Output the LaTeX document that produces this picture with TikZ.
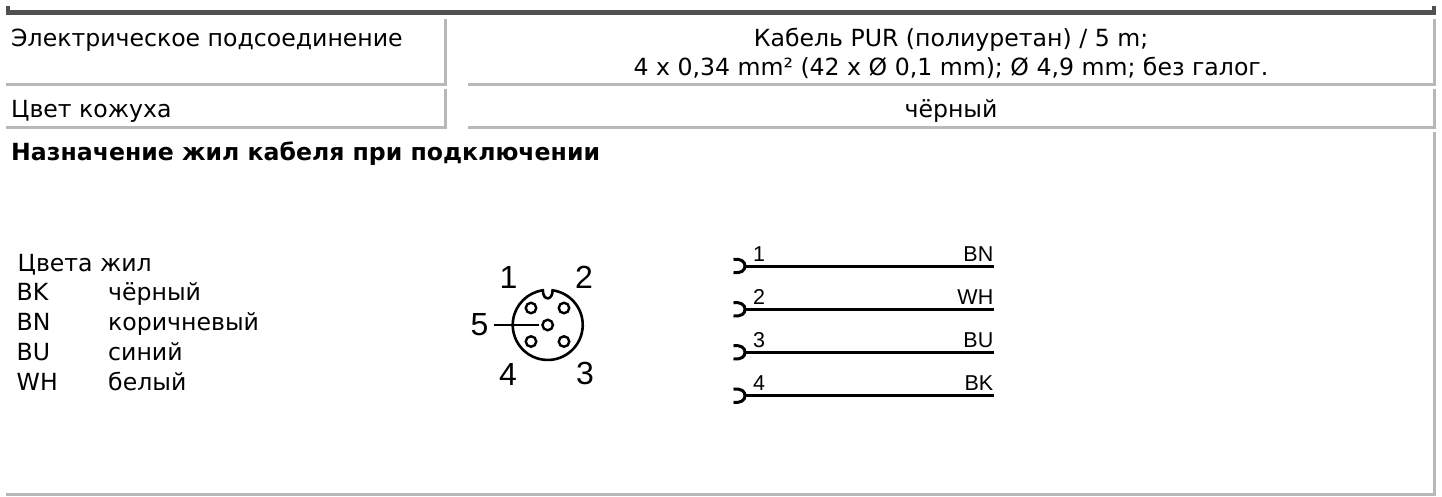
\documentclass[tikz,border=0pt]{standalone}
\usepackage{fontspec}
\setmainfont{DejaVu Sans}
\newfontfamily\arialf{Liberation Sans}
\definecolor{barc}{HTML}{505050}
\definecolor{rulec}{HTML}{B8B8B8}
\tikzset{
  txt/.style={inner sep=0pt,anchor=base west,text=black,font=\fontsize{23.6}{28}\selectfont},
  ctxt/.style={inner sep=0pt,anchor=base,text=black,font=\fontsize{23.6}{28}\selectfont},
  biglab/.style={inner sep=0pt,anchor=center,font=\arialf\fontsize{32}{36}\selectfont},
  pinlab/.style={inner sep=0pt,anchor=base west,font=\arialf\fontsize{21.5}{24}\selectfont},
  wirelab/.style={inner sep=0pt,anchor=base east,font=\arialf\fontsize{21.5}{24}\selectfont},
  wire/.style={line width=3pt,black},
  sock/.style={line width=3pt,black},
  face/.style={line width=2.6pt,black},
  pinc/.style={circle,draw=black,line width=2.4pt,minimum size=10.5pt,inner sep=0pt},
  ruleb/.style={fill=rulec,draw=none},
  barb/.style={fill=barc,draw=none}
}
\begin{document}
\begin{tikzpicture}[x=1pt,y=-1pt]
\useasboundingbox (0,0) rectangle (1442,496);
\fill[white] (0,0) rectangle (1442,496);
% top bar
\path[barb] (6,6) rectangle (10,15);
\path[barb] (6,10) rectangle (1436,15);
\path[barb] (1432,6) rectangle (1436,15);
% row rules
\path[ruleb] (444,19) rectangle (447,86);
\path[ruleb] (6,83) rectangle (447,86);
\path[ruleb] (1433,19) rectangle (1436,86);
\path[ruleb] (468,83) rectangle (1436,86);
\path[ruleb] (444,89) rectangle (447,128.5);
\path[ruleb] (6,126) rectangle (447,128.5);
\path[ruleb] (1433,89) rectangle (1436,128.5);
\path[ruleb] (468,126) rectangle (1436,128.5);
\path[ruleb] (1433,132) rectangle (1436,496);
\path[ruleb] (6,493) rectangle (1436,496);
% table text
\node[txt] (t1) at (11,46.5) {Электрическое подсоединение};
\node[ctxt] (t2) at (951,46) {Кабель PUR (полиуретан) / 5 m;};
\node[ctxt] (t3) at (951,75) {4 x 0,34 mm² (42 x Ø 0,1 mm); Ø 4,9 mm; без галог.};
\node[txt] (t4) at (11,117) {Цвет кожуха};
\node[ctxt] (t5) at (951,117) {чёрный};
\node[txt,font=\fontsize{23.6}{28}\selectfont\bfseries] (t6) at (11,160) {Назначение жил кабеля при подключении};
% legend
\node[txt] (l0) at (17.5,271.5) {Цвета жил};
\node[txt] (l1) at (16.5,300.5) {BK};
\node[txt] (l1b) at (108,300.5) {чёрный};
\node[txt] (l2) at (16.5,330.5) {BN};
\node[txt] (l2b) at (108,330.5) {коричневый};
\node[txt] (l3) at (16.5,360.5) {BU};
\node[txt] (l3b) at (108,360.5) {синий};
\node[txt] (l4) at (16.5,390.5) {WH};
\node[txt] (l4b) at (108,390.5) {белый};
% connector face
\draw[face] (552.6,290.3) arc[start angle=278,end angle=622,radius=35]
  .. controls (542.8,301) and (552.6,301) .. cycle;
\node[pinc] (p1) at (531,308) {};
\node[pinc] (p2) at (564,308) {};
\node[pinc] (p3) at (564,341.5) {};
\node[pinc] (p4) at (531,341.5) {};
\node[pinc] (p5) at (547.7,325) {};
\coordinate (p5end) at (494,325);
\draw[face,shorten >=2pt] (p5end) -- (p5);
\node[biglab] (n1) at (508.5,277) {1};
\node[biglab] (n2) at (584,277) {2};
\node[biglab] (n3) at (585,373) {3};
\node[biglab] (n4) at (508,374) {4};
\node[biglab] (n5) at (479.5,324.5) {5};
% wiring
\foreach \i/\yy/\lab/\col in {1/266/1/BN,2/309.3/2/WH,3/352.3/3/BU,4/395.7/4/BK}{
  \coordinate (a\i) at (745,\yy);
  \coordinate (b\i) at (993.5,\yy);
  \draw[wire] (a\i) -- (b\i);
  \draw[sock] (733.5,\yy-6.5) .. controls (741,\yy-7.5) and (745,\yy-4.5) .. (a\i)
     .. controls (745,\yy+4.5) and (741,\yy+7.5) .. (733.5,\yy+6.5);
  \node[pinlab] (w\i) at (753,\yy-5) {\lab};
  \node[wirelab] (c\i) at (993.5,\yy-5) {\col};
}
\end{tikzpicture}
\end{document}
